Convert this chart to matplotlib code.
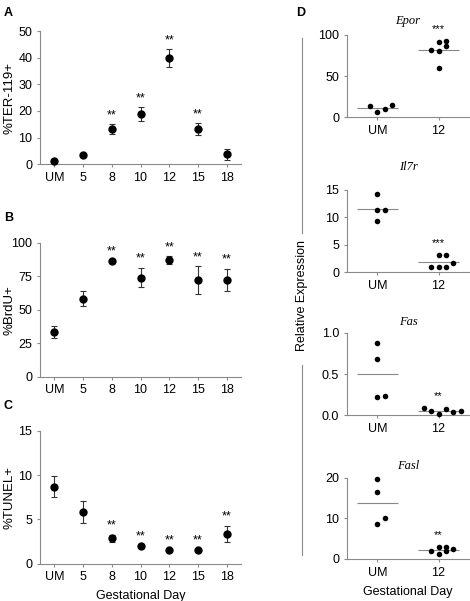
import matplotlib.pyplot as plt
import numpy as np
from matplotlib.lines import Line2D

plt.rcParams['font.family'] = ['Liberation Sans', 'DejaVu Sans']
plt.rcParams['font.size'] = 9

# left column: time course
days = ['UM', '5', '8', '10', '12', '15', '18']

ter_mean = [1.0, 3.3, 13.3, 18.8, 39.9, 13.2, 3.7]
ter_err = [0.4, 0.5, 1.8, 2.5, 3.5, 2.2, 2.0]
ter_sig = ['', '', '**', '**', '**', '**', '']

brdu_mean = [33.3, 58.4, 86.3, 74.1, 87.2, 72.2, 72.2]
brdu_err = [4.3, 5.9, 1.0, 7.4, 2.9, 10.3, 8.5]
brdu_sig = ['', '', '**', '**', '**', '**', '**']

tunel_mean = [8.7, 5.85, 2.9, 1.95, 1.55, 1.55, 3.4]
tunel_err = [1.2, 1.2, 0.4, 0.1, 0.1, 0.1, 0.9]
tunel_sig = ['', '', '**', '**', '**', '**', '**']

# right column: qPCR, UM vs day 12
groups = ['UM', '12']
epor_um = [13.8, 6.5, 10.2, 14.6]
epor_12 = [81.7, 80.5, 87.0, 91.5, 92.3, 59.3]
il7r_um = [14.2, 11.4, 11.4, 9.4]
il7r_12 = [3.2, 3.2, 1.0, 0.9, 1.0, 1.7]
fas_um = [0.878, 0.683, 0.224, 0.236]
fas_12 = [0.085, 0.049, 0.020, 0.081, 0.037, 0.057]
fasl_um = [19.6, 16.5, 8.7, 10.2]
fasl_12 = [3.0, 3.0, 2.0, 1.1, 2.0, 2.4]

fig = plt.figure(figsize=(4.7, 6.01), dpi=100)

SPINE = '#8a8a8a'


def style(ax):
    for s in ['top', 'right']:
        ax.spines[s].set_visible(False)
    for s in ['left', 'bottom']:
        ax.spines[s].set_color(SPINE)
        ax.spines[s].set_linewidth(0.8)
    ax.tick_params(direction='out', length=2.5, width=0.8, color=SPINE, labelsize=9, pad=3)


def left_panel(rect, mean, err, sig, ymax, yticks, ylabel, letter, ly, xlabel=None):
    ax = fig.add_axes(rect)
    x = np.arange(len(days))
    ax.errorbar(x, mean, yerr=err, fmt='o', color='black', ms=5, ecolor='#333333',
                elinewidth=0.8, capsize=2.5, capthick=0.8, clip_on=False, zorder=3)
    for xi, m, e, s in zip(x, mean, err, sig):
        if s:
            ax.annotate(s, (xi, m + e), xytext=(0, 2), textcoords='offset points',
                        ha='center', va='bottom', fontsize=9)
    ax.set_xlim(-0.5, 6.5)
    ax.set_ylim(0, ymax)
    ax.set_yticks(yticks)
    ax.set_xticks(x)
    ax.set_xticklabels(days)
    ax.set_ylabel(ylabel, fontsize=9.5)
    ax.yaxis.set_label_coords(-0.12, 0.5)
    style(ax)
    if xlabel:
        ax.set_xlabel(xlabel, fontsize=9, labelpad=5)
    fig.text(0.008, ly, letter, fontsize=9, fontweight='bold', va='center')
    return ax


left_panel([0.085, 0.727, 0.428, 0.221], ter_mean, ter_err, ter_sig, 50,
           [0, 10, 20, 30, 40, 50], '%TER-119+', 'A', 0.978)
left_panel([0.085, 0.373, 0.428, 0.223], brdu_mean, brdu_err, brdu_sig, 100,
           [0, 25, 50, 75, 100], '%BrdU+', 'B', 0.637)
left_panel([0.085, 0.062, 0.428, 0.221], tunel_mean, tunel_err, tunel_sig, 15,
           [0, 5, 10, 15], '%TUNEL+', 'C', 0.324, xlabel='Gestational Day')


def swarm(vals, ppu, gap=7.0, step=0.12):
    # group points that overlap vertically into rows, spread each row sideways
    order = np.argsort(vals, kind='stable')
    rows = []
    for i in order:
        if rows and (vals[i] - vals[rows[-1][0]]) * ppu < gap:
            rows[-1].append(i)
        else:
            rows.append([i])
    dx = np.zeros(len(vals))
    for row in rows:
        row = sorted(row)
        start = -((len(row) - 1) // 2)
        for k, i in enumerate(row):
            dx[i] = (start + k) * step
    return dx


def right_panel(rect, um, d12, ymax, yticks, title, sig, tpad, fmt=None, xlabel=None):
    ax = fig.add_axes(rect)
    ppu = rect[3] * 601 / ymax
    for i, vals in enumerate([um, d12]):
        dx = swarm(vals, ppu)
        ax.scatter(i + dx, vals, s=16, color='black', zorder=3, clip_on=False, linewidths=0)
        m = np.mean(vals)
        ax.hlines(m, i - 0.33, i + 0.33, color='#888888', lw=0.8, zorder=2)
    ax.annotate(sig, (1, max(d12)), xytext=(0, 5), textcoords='offset points',
                ha='center', va='bottom', fontsize=8, annotation_clip=False)
    ax.set_xlim(-0.5, 1.5)
    ax.set_ylim(0, ymax)
    ax.set_yticks(yticks)
    if fmt:
        ax.set_yticklabels([fmt % t for t in yticks])
    ax.set_xticks([0, 1])
    ax.set_xticklabels(groups)
    ax.set_title(title, fontsize=9, family='Liberation Serif', style='italic', pad=tpad)
    style(ax)
    if xlabel:
        ax.set_xlabel(xlabel, fontsize=9, labelpad=5)
    return ax


right_panel([0.738, 0.805, 0.26, 0.137], epor_um, epor_12, 100, [0, 50, 100], 'Epor', '***', 8)
right_panel([0.738, 0.547, 0.26, 0.137], il7r_um, il7r_12, 15, [0, 5, 10, 15], 'Il7r', '***', 14)
right_panel([0.738, 0.309, 0.26, 0.137], fas_um, fas_12, 1.0, [0.0, 0.5, 1.0], 'Fas', '**', 6, fmt='%.1f')
right_panel([0.738, 0.070, 0.26, 0.135], fasl_um, fasl_12, 20, [0, 10, 20], 'Fasl', '**', 6,
            xlabel='Gestational Day')

fig.text(0.63, 0.978, 'D', fontsize=9, fontweight='bold', va='center')

# shared y label with split line
lx = 0.6426
fig.add_artist(Line2D([lx, lx], [0.9368, 0.6123], color=SPINE, lw=0.8))
fig.add_artist(Line2D([lx, lx], [0.3927, 0.0765], color=SPINE, lw=0.8))
fig.text(lx, 0.5075, 'Relative Expression', rotation=90, ha='center', va='center', fontsize=9)

fig.savefig('out.png', dpi=100)
